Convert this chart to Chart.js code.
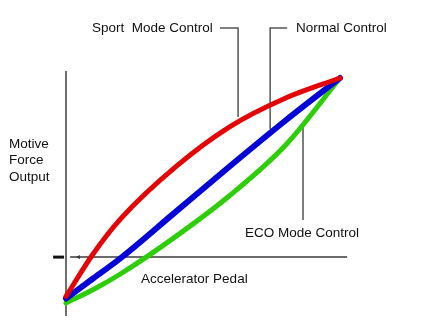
<!DOCTYPE html>
<html>
<head>
<meta charset="utf-8">
<script src="https://cdn.jsdelivr.net/npm/chart.js@4.4.1/dist/chart.umd.min.js"></script>
<style>
  html, body { margin: 0; padding: 0; background: #fff; }
</style>
</head>
<body>
<canvas id="chart" width="441" height="321"></canvas>
<script>
// pedal position (0-100) vs motive force (0-100)
let pedal = [0, 10, 20, 40, 60, 80, 100];
let sportForce = [3, 22, 37.5, 60.5, 78.5, 91, 100];
let normalForce = [2, 11, 20, 40.5, 61, 81, 100];
let ecoForce = [0, 6, 13, 29.5, 48, 70, 100];

let seriesNames = ["Sport  Mode Control", "Normal Control", "ECO Mode Control"];
let axisTitles = ["Accelerator Pedal", ["Motive", "Force", "Output"]];

let pts = (xs, ys) => xs.map((x, i) => ({ x: x, y: ys[i] }));

let curve = (label, ys, color, width) => ({
	label: label,
	data: pts(pedal, ys),
	borderColor: color,
	borderWidth: width,
	pointRadius: 0,
	cubicInterpolationMode: "monotone",
	borderCapStyle: "round",
});

let guide = (data, color, width) => ({
	data: data,
	borderColor: color,
	borderWidth: width,
	pointRadius: 0,
	tension: 0,
});

let hAxis = guide([{ x: 1.5, y: 20.4 }, { x: 4.6, y: 20.4 }, { x: 102.6, y: 20.4 }], "#3a3a3a", 1.5);
hAxis.pointRadius = [0, 2.5, 0];
hAxis.pointStyle = "triangle";
hAxis.rotation = 270;
hAxis.pointBackgroundColor = "#3a3a3a";
hAxis.pointBorderWidth = 0;

let labelPlugin = {
	id: "labels",
	afterDatasetsDraw(chart) {
		let ctx = chart.ctx;
		let xs = chart.scales.x;
		let ys = chart.scales.y;
		ctx.save();
		ctx.fillStyle = "#111";
		ctx.font = "13.5px 'Liberation Sans', Arial, sans-serif";
		ctx.textBaseline = "middle";
		ctx.textAlign = "left";
		let put = (t, x, y) => ctx.fillText(t, xs.getPixelForValue(x), ys.getPixelForValue(y));
		put(seriesNames[0], 9.5, 122.2);
		put(seriesNames[1], 83.9, 122.2);
		put(seriesNames[2], 65.3, 31.1);
		put(axisTitles[0], 27.4, 10.7);
		put(axisTitles[1][0], -20.8, 70.7);
		put(axisTitles[1][1], -20.8, 63.3);
		put(axisTitles[1][2], -20.8, 56);
		ctx.restore();
	},
};

let renderChart = () => {
	let el = document.getElementById("chart");

	new Chart(el, {
		type: "line",
		data: {
			datasets: [
				curve(seriesNames[0], sportForce, "#e60505", 5),
				curve(seriesNames[1], normalForce, "#0505d8", 6),
				curve(seriesNames[2], ecoForce, "#2ccf05", 5),
				// leader lines
				guide([{ x: 56.2, y: 122.2 }, { x: 62.8, y: 122.2 }, { x: 62.8, y: 82.7 }], "#555", 1.5),
				guide([{ x: 80.7, y: 122.2 }, { x: 74.5, y: 122.2 }, { x: 74.5, y: 77.3 }], "#555", 1.5),
				guide([{ x: 86.5, y: 80 }, { x: 86.5, y: 36.9 }], "#555", 1.5),
				// axes
				guide([{ x: 0, y: 103.1 }, { x: 0, y: -5.8 }], "#707070", 2),
				hAxis,
				guide([{ x: -4.7, y: 20.4 }, { x: -0.7, y: 20.4 }], "#111", 3),
			],
		},
		options: {
			responsive: false,
			animation: false,
			layout: { padding: 0 },
			plugins: { legend: { display: false }, tooltip: { enabled: false } },
			scales: {
				x: { type: "linear", display: false, min: -66 / 2.74, max: (441 - 66) / 2.74 },
				y: { type: "linear", display: false, min: (303 - 321) / 2.25, max: 303 / 2.25 },
			},
		},
		plugins: [labelPlugin],
	});
};
renderChart();
</script>
</body>
</html>
